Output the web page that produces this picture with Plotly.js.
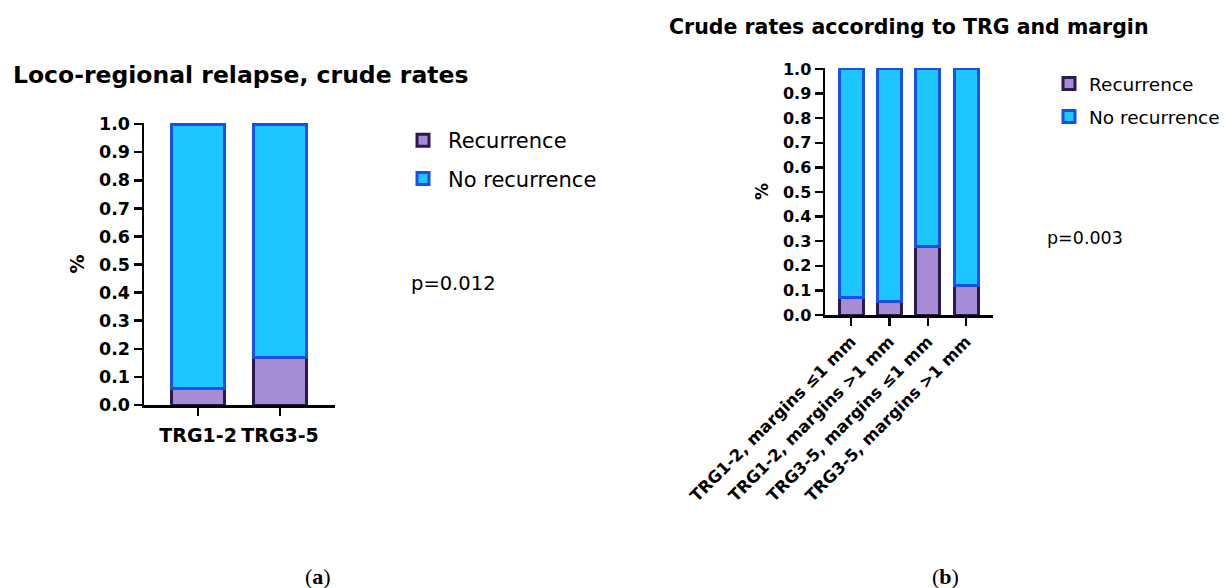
<!DOCTYPE html>
<html>
<head>
<meta charset="utf-8">
<script src="https://cdn.plot.ly/plotly-3.0.1.min.js"></script>
<style>html,body{margin:0;padding:0;background:#fff;}#chart{width:1231px;height:588px;}</style>
</head>
<body>
<div id="chart"></div>
<script>
// Panel (a)
const catsA = ["TRG1-2", "TRG3-5"];
const recurrenceA = [0.06, 0.17];
const noRecurrenceA = [0.94, 0.83];
// Panel (b)
const catsB = ["TRG1-2, margins ≤1 mm", "TRG1-2, margins >1 mm", "TRG3-5, margins ≤1 mm", "TRG3-5, margins >1 mm"];
const recurrenceB = [0.07, 0.055, 0.28, 0.12];
const noRecurrenceB = [0.93, 0.945, 0.72, 0.88];
const yTicks = [0, 0.1, 0.2, 0.3, 0.4, 0.5, 0.6, 0.7, 0.8, 0.9, 1.0];
const yTickText = ["0.0", "0.1", "0.2", "0.3", "0.4", "0.5", "0.6", "0.7", "0.8", "0.9", "1.0"];

const W = 1231, H = 588;
const px = x => x / W;
const py = y => 1 - y / H;

const recFill = "#a68cd4", recLine = "#2b1a4c";
const noFill = "#1ec6ff", noLine = "#1a4fe8";
const FONT = "DejaVu Sans, Verdana, sans-serif";

const traces = [
  {type: "bar", x: catsA, y: recurrenceA, name: "Recurrence", xaxis: "x", yaxis: "y", legend: "legend", legendgroup: "a1",
   width: 0.64, marker: {color: recFill, line: {color: recLine, width: 3}}},
  {type: "bar", x: catsA, y: noRecurrenceA, name: "No recurrence", xaxis: "x", yaxis: "y", legend: "legend", legendgroup: "a2",
   width: 0.64, marker: {color: noFill, line: {color: noLine, width: 3}}},
  {type: "bar", x: catsB, y: recurrenceB, name: "Recurrence", xaxis: "x2", yaxis: "y2", legend: "legend2", legendgroup: "b1",
   width: 0.63, marker: {color: recFill, line: {color: recLine, width: 3}}},
  {type: "bar", x: catsB, y: noRecurrenceB, name: "No recurrence", xaxis: "x2", yaxis: "y2", legend: "legend2", legendgroup: "b2",
   width: 0.63, marker: {color: noFill, line: {color: noLine, width: 3}}}
];

const axisCommon = {
  showline: true, linecolor: "#000", linewidth: 2.5, ticks: "outside", ticklen: 8, tickwidth: 2.5,
  tickcolor: "#000", showgrid: false, zeroline: false, fixedrange: true
};

const layout = {
  width: W, height: H,
  margin: {l: 0, r: 0, t: 0, b: 0},
  paper_bgcolor: "#fff", plot_bgcolor: "#fff",
  barmode: "stack",
  font: {family: FONT, color: "#000"},
  xaxis: Object.assign({}, axisCommon, {
    domain: [px(144), px(335)], range: [-0.66, 1.67], anchor: "y", tickangle: 0,
    tickfont: {size: 19, weight: 700, family: FONT, color: "#000"}, ticklabelstandoff: 4
  }),
  yaxis: Object.assign({}, axisCommon, {
    domain: [py(405), py(123)], range: [0, 1.004], anchor: "x",
    tickvals: yTicks, ticktext: yTickText,
    tickfont: {size: 17.5, weight: 700, family: FONT, color: "#000"},
    title: {text: "%", font: {size: 19, weight: 700, family: FONT, color: "#000"}, standoff: 10}
  }),
  xaxis2: Object.assign({}, axisCommon, {
    domain: [px(825), px(993)], range: [-0.68, 3.7], anchor: "y2",
    tickangle: -45,
    tickfont: {size: 16.5, weight: 700, family: FONT, color: "#000"}
  }),
  yaxis2: Object.assign({}, axisCommon, {
    domain: [py(315), py(68)], range: [0, 1.004], anchor: "x2",
    tickvals: yTicks, ticktext: yTickText,
    tickfont: {size: 16, weight: 700, family: FONT, color: "#000"},
    title: {text: "%", font: {size: 17, weight: 700, family: FONT, color: "#000"}, standoff: 10}
  }),
  showlegend: true,
  legend: {
    x: px(398), y: py(120), xanchor: "left", yanchor: "top",
    traceorder: "grouped", font: {size: 21, family: FONT, color: "#000"},
    bgcolor: "rgba(0,0,0,0)", itemwidth: 40, tracegroupgap: 8
  },
  legend2: {
    x: px(1049), y: py(65), xanchor: "left", yanchor: "top",
    traceorder: "grouped", font: {size: 18.5, family: FONT, color: "#000"},
    bgcolor: "rgba(0,0,0,0)", itemwidth: 30, tracegroupgap: 6
  },
  annotations: [
    {text: "<b>Loco-regional relapse, crude rates</b>", xref: "paper", yref: "paper",
     x: px(11), y: py(75), xanchor: "left", yanchor: "middle", showarrow: false,
     font: {size: 23.5, family: FONT, color: "#000"}},
    {text: "<b>Crude rates according to TRG and margin</b>", xref: "paper", yref: "paper",
     x: px(667), y: py(27), xanchor: "left", yanchor: "middle", showarrow: false,
     font: {size: 20.5, family: FONT, color: "#000"}},
    {text: "p=0.012", xref: "paper", yref: "paper",
     x: px(409), y: py(283), xanchor: "left", yanchor: "middle", showarrow: false,
     font: {size: 19.5, family: FONT, color: "#000"}},
    {text: "p=0.003", xref: "paper", yref: "paper",
     x: px(1045), y: py(238), xanchor: "left", yanchor: "middle", showarrow: false,
     font: {size: 17.5, family: FONT, color: "#000"}},
    {text: "(<b>a</b>)", xref: "paper", yref: "paper",
     x: px(318), y: py(576), xanchor: "center", yanchor: "middle", showarrow: false,
     font: {size: 22, family: "Liberation Serif, DejaVu Serif, serif", color: "#000"}},
    {text: "(<b>b</b>)", xref: "paper", yref: "paper",
     x: px(945), y: py(576), xanchor: "center", yanchor: "middle", showarrow: false,
     font: {size: 22, family: "Liberation Serif, DejaVu Serif, serif", color: "#000"}}
  ]
};

Plotly.newPlot("chart", traces, layout, {displayModeBar: false, staticPlot: true});
</script>
</body>
</html>
